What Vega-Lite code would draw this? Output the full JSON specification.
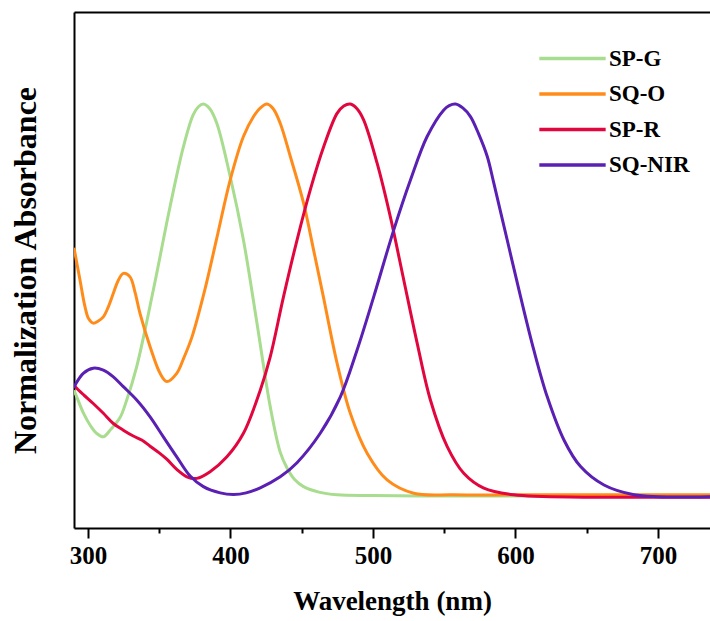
{
  "$schema": "https://vega.github.io/schema/vega-lite/v6.json",
  "autosize": {"type": "none"},
  "padding": {"left": 74, "top": 12, "right": 0, "bottom": 93},
  "width": 636,
  "height": 516,
  "background": "white",
  "config": {
    "view": {"stroke": null},
    "axis": {
      "domainColor": "black", "domainWidth": 2, "tickColor": "black", "tickWidth": 2, "grid": false,
      "labelFont": "Liberation Serif", "titleFont": "Liberation Serif",
      "labelFontWeight": "bold", "titleFontWeight": "bold", "labelColor": "black", "titleColor": "black"
    }
  },
  "datasets": {
    "spec": [
      {"s":"SP-G","w":290.2,"v":0.270},{"s":"SP-G","w":292.1,"v":0.253},{"s":"SP-G","w":297,"v":0.21},{"s":"SP-G","w":302,"v":0.178},{"s":"SP-G","w":306,"v":0.16},{"s":"SP-G","w":310.8,"v":0.151},{"s":"SP-G","w":316,"v":0.17},{"s":"SP-G","w":322.5,"v":0.20},{"s":"SP-G","w":327.2,"v":0.245},{"s":"SP-G","w":334.2,"v":0.33},{"s":"SP-G","w":345.9,"v":0.526},{"s":"SP-G","w":357.6,"v":0.738},{"s":"SP-G","w":367.0,"v":0.891},{"s":"SP-G","w":373.8,"v":0.972},{"s":"SP-G","w":377.5,"v":0.993},{"s":"SP-G","w":381.0,"v":1.0},{"s":"SP-G","w":385.5,"v":0.988},{"s":"SP-G","w":390.4,"v":0.951},{"s":"SP-G","w":399.8,"v":0.815},{"s":"SP-G","w":409.1,"v":0.653},{"s":"SP-G","w":418.6,"v":0.441},{"s":"SP-G","w":427.9,"v":0.228},{"s":"SP-G","w":434.9,"v":0.112},{"s":"SP-G","w":439.6,"v":0.072},{"s":"SP-G","w":445,"v":0.042},{"s":"SP-G","w":451.3,"v":0.024},{"s":"SP-G","w":462,"v":0.010},{"s":"SP-G","w":474.8,"v":0.003},{"s":"SP-G","w":500,"v":0.001},{"s":"SP-G","w":550,"v":0.0},{"s":"SP-G","w":600,"v":0.0},{"s":"SP-G","w":650,"v":0.0},{"s":"SP-G","w":700,"v":0.0},{"s":"SP-G","w":736.5,"v":0.0},
      {"s":"SQ-O","w":290.2,"v":0.633},{"s":"SQ-O","w":294.4,"v":0.551},{"s":"SQ-O","w":297.9,"v":0.483},{"s":"SQ-O","w":300.5,"v":0.452},{"s":"SQ-O","w":303.7,"v":0.441},{"s":"SQ-O","w":307,"v":0.446},{"s":"SQ-O","w":310.8,"v":0.457},{"s":"SQ-O","w":314,"v":0.48},{"s":"SQ-O","w":317.8,"v":0.517},{"s":"SQ-O","w":321,"v":0.548},{"s":"SQ-O","w":324.8,"v":0.568},{"s":"SQ-O","w":329.5,"v":0.559},{"s":"SQ-O","w":333,"v":0.52},{"s":"SQ-O","w":336.5,"v":0.466},{"s":"SQ-O","w":343.6,"v":0.381},{"s":"SQ-O","w":350.6,"v":0.313},{"s":"SQ-O","w":355.3,"v":0.292},{"s":"SQ-O","w":362.3,"v":0.313},{"s":"SQ-O","w":367,"v":0.35},{"s":"SQ-O","w":373,"v":0.406},{"s":"SQ-O","w":382,"v":0.526},{"s":"SQ-O","w":390.4,"v":0.658},{"s":"SQ-O","w":399.8,"v":0.806},{"s":"SQ-O","w":409.1,"v":0.917},{"s":"SQ-O","w":416.2,"v":0.968},{"s":"SQ-O","w":421,"v":0.990},{"s":"SQ-O","w":425.6,"v":1.0},{"s":"SQ-O","w":430,"v":0.988},{"s":"SQ-O","w":434.9,"v":0.951},{"s":"SQ-O","w":442.0,"v":0.866},{"s":"SQ-O","w":451.3,"v":0.747},{"s":"SQ-O","w":458.3,"v":0.628},{"s":"SQ-O","w":465.2,"v":0.508},{"s":"SQ-O","w":474.8,"v":0.339},{"s":"SQ-O","w":484.1,"v":0.211},{"s":"SQ-O","w":495.9,"v":0.109},{"s":"SQ-O","w":509.9,"v":0.041},{"s":"SQ-O","w":528.6,"v":0.007},{"s":"SQ-O","w":556.5,"v":0.003},{"s":"SQ-O","w":600,"v":0.003},{"s":"SQ-O","w":650,"v":0.003},{"s":"SQ-O","w":700,"v":0.003},{"s":"SQ-O","w":736.5,"v":0.003},
      {"s":"SP-R","w":290.2,"v":0.283},{"s":"SP-R","w":292.1,"v":0.275},{"s":"SP-R","w":297,"v":0.258},{"s":"SP-R","w":303.7,"v":0.236},{"s":"SP-R","w":310.8,"v":0.211},{"s":"SP-R","w":317.8,"v":0.185},{"s":"SP-R","w":324.8,"v":0.168},{"s":"SP-R","w":331.8,"v":0.153},{"s":"SP-R","w":337.7,"v":0.143},{"s":"SP-R","w":343.6,"v":0.127},{"s":"SP-R","w":350,"v":0.110},{"s":"SP-R","w":355.3,"v":0.094},{"s":"SP-R","w":362.3,"v":0.068},{"s":"SP-R","w":369.4,"v":0.049},{"s":"SP-R","w":376.4,"v":0.045},{"s":"SP-R","w":385.7,"v":0.062},{"s":"SP-R","w":397.5,"v":0.100},{"s":"SP-R","w":409.1,"v":0.160},{"s":"SP-R","w":420.9,"v":0.270},{"s":"SP-R","w":427.9,"v":0.355},{"s":"SP-R","w":437.2,"v":0.508},{"s":"SP-R","w":446.7,"v":0.653},{"s":"SP-R","w":456.0,"v":0.781},{"s":"SP-R","w":465.4,"v":0.891},{"s":"SP-R","w":474.8,"v":0.976},{"s":"SP-R","w":479.5,"v":0.995},{"s":"SP-R","w":484.1,"v":1.0},{"s":"SP-R","w":488.8,"v":0.988},{"s":"SP-R","w":493.5,"v":0.959},{"s":"SP-R","w":502.9,"v":0.849},{"s":"SP-R","w":512.2,"v":0.712},{"s":"SP-R","w":521.6,"v":0.551},{"s":"SP-R","w":531.0,"v":0.390},{"s":"SP-R","w":540.3,"v":0.245},{"s":"SP-R","w":552.1,"v":0.126},{"s":"SP-R","w":563.7,"v":0.058},{"s":"SP-R","w":577.8,"v":0.020},{"s":"SP-R","w":598.7,"v":0.003},{"s":"SP-R","w":650,"v":-0.003},{"s":"SP-R","w":700,"v":-0.003},{"s":"SP-R","w":736.5,"v":-0.003},
      {"s":"SQ-NIR","w":290.2,"v":0.276},{"s":"SQ-NIR","w":291.6,"v":0.287},{"s":"SQ-NIR","w":296.7,"v":0.313},{"s":"SQ-NIR","w":303.7,"v":0.326},{"s":"SQ-NIR","w":310.8,"v":0.321},{"s":"SQ-NIR","w":317.8,"v":0.304},{"s":"SQ-NIR","w":324.8,"v":0.279},{"s":"SQ-NIR","w":334.2,"v":0.245},{"s":"SQ-NIR","w":343.6,"v":0.202},{"s":"SQ-NIR","w":352.9,"v":0.151},{"s":"SQ-NIR","w":362.3,"v":0.100},{"s":"SQ-NIR","w":371.7,"v":0.051},{"s":"SQ-NIR","w":381.0,"v":0.024},{"s":"SQ-NIR","w":392.8,"v":0.008},{"s":"SQ-NIR","w":402.1,"v":0.004},{"s":"SQ-NIR","w":411,"v":0.008},{"s":"SQ-NIR","w":420.9,"v":0.021},{"s":"SQ-NIR","w":434.9,"v":0.049},{"s":"SQ-NIR","w":446.7,"v":0.085},{"s":"SQ-NIR","w":463.0,"v":0.160},{"s":"SQ-NIR","w":477.1,"v":0.253},{"s":"SQ-NIR","w":488.8,"v":0.372},{"s":"SQ-NIR","w":500.5,"v":0.508},{"s":"SQ-NIR","w":514.6,"v":0.679},{"s":"SQ-NIR","w":526.3,"v":0.806},{"s":"SQ-NIR","w":538.0,"v":0.917},{"s":"SQ-NIR","w":549.7,"v":0.985},{"s":"SQ-NIR","w":553.5,"v":0.996},{"s":"SQ-NIR","w":557.9,"v":1.0},{"s":"SQ-NIR","w":563,"v":0.990},{"s":"SQ-NIR","w":568.4,"v":0.968},{"s":"SQ-NIR","w":574,"v":0.925},{"s":"SQ-NIR","w":580.2,"v":0.866},{"s":"SQ-NIR","w":584.8,"v":0.798},{"s":"SQ-NIR","w":594.2,"v":0.653},{"s":"SQ-NIR","w":603.6,"v":0.508},{"s":"SQ-NIR","w":612.9,"v":0.372},{"s":"SQ-NIR","w":622.3,"v":0.253},{"s":"SQ-NIR","w":634.0,"v":0.143},{"s":"SQ-NIR","w":645.7,"v":0.075},{"s":"SQ-NIR","w":662.1,"v":0.028},{"s":"SQ-NIR","w":683.2,"v":0.003},{"s":"SQ-NIR","w":700,"v":-0.002},{"s":"SQ-NIR","w":736.5,"v":-0.002}
    ]
  },
  "data": {"name": "spec"},
  "layer": [
    {
      "mark": {"type": "line", "strokeWidth": 3, "interpolate": "catmull-rom", "clip": true},
      "encoding": {
        "x": {
          "field": "w", "type": "quantitative",
          "scale": {"domain": [290.2, 736.5], "nice": false, "zero": false},
          "axis": {
            "orient": "bottom",
            "title": "Wavelength (nm)",
            "values": [300, 350, 400, 450, 500, 550, 600, 650, 700],
            "labelExpr": "datum.value % 100 === 0 ? datum.label : ''",
            "tickSize": {"condition": {"test": "datum.value % 100 !== 0", "value": 5}, "value": 10},
            "labelFontSize": 25, "titleFontSize": 27, "labelPadding": 5, "titlePadding": 20, "labelFlush": false
          }
        },
        "y": {
          "field": "v", "type": "quantitative",
          "scale": {"domain": [-0.0816, 1.2347], "nice": false, "zero": false},
          "axis": {"title": "Normalization Absorbance", "ticks": false, "labels": false, "titleFontSize": 32, "titlePadding": 32}
        },
        "color": {
          "field": "s", "type": "nominal",
          "scale": {"domain": ["SP-G", "SQ-O", "SP-R", "SQ-NIR"], "range": ["#a8dc8e", "#ff8c1a", "#e1063e", "#5a1fb3"]},
          "legend": {
            "orient": "none", "legendX": 480, "legendY": 28, "title": null,
            "symbolType": "M-2,0H2", "symbolSize": 1100, "symbolStrokeWidth": 3.5,
            "labelFont": "Liberation Serif", "labelFontWeight": "bold", "labelFontSize": 23, "labelColor": "black",
            "labelOffset": 18, "rowPadding": 4.5
          }
        }
      }
    },
    {
      "mark": {"type": "line", "opacity": 0},
      "encoding": {
        "x": {"field": "w", "type": "quantitative", "axis": {"orient": "top", "labels": false, "ticks": false, "title": null}},
        "y": {"field": "v", "type": "quantitative"}
      }
    }
  ],
  "resolve": {"axis": {"x": "independent"}}
}
